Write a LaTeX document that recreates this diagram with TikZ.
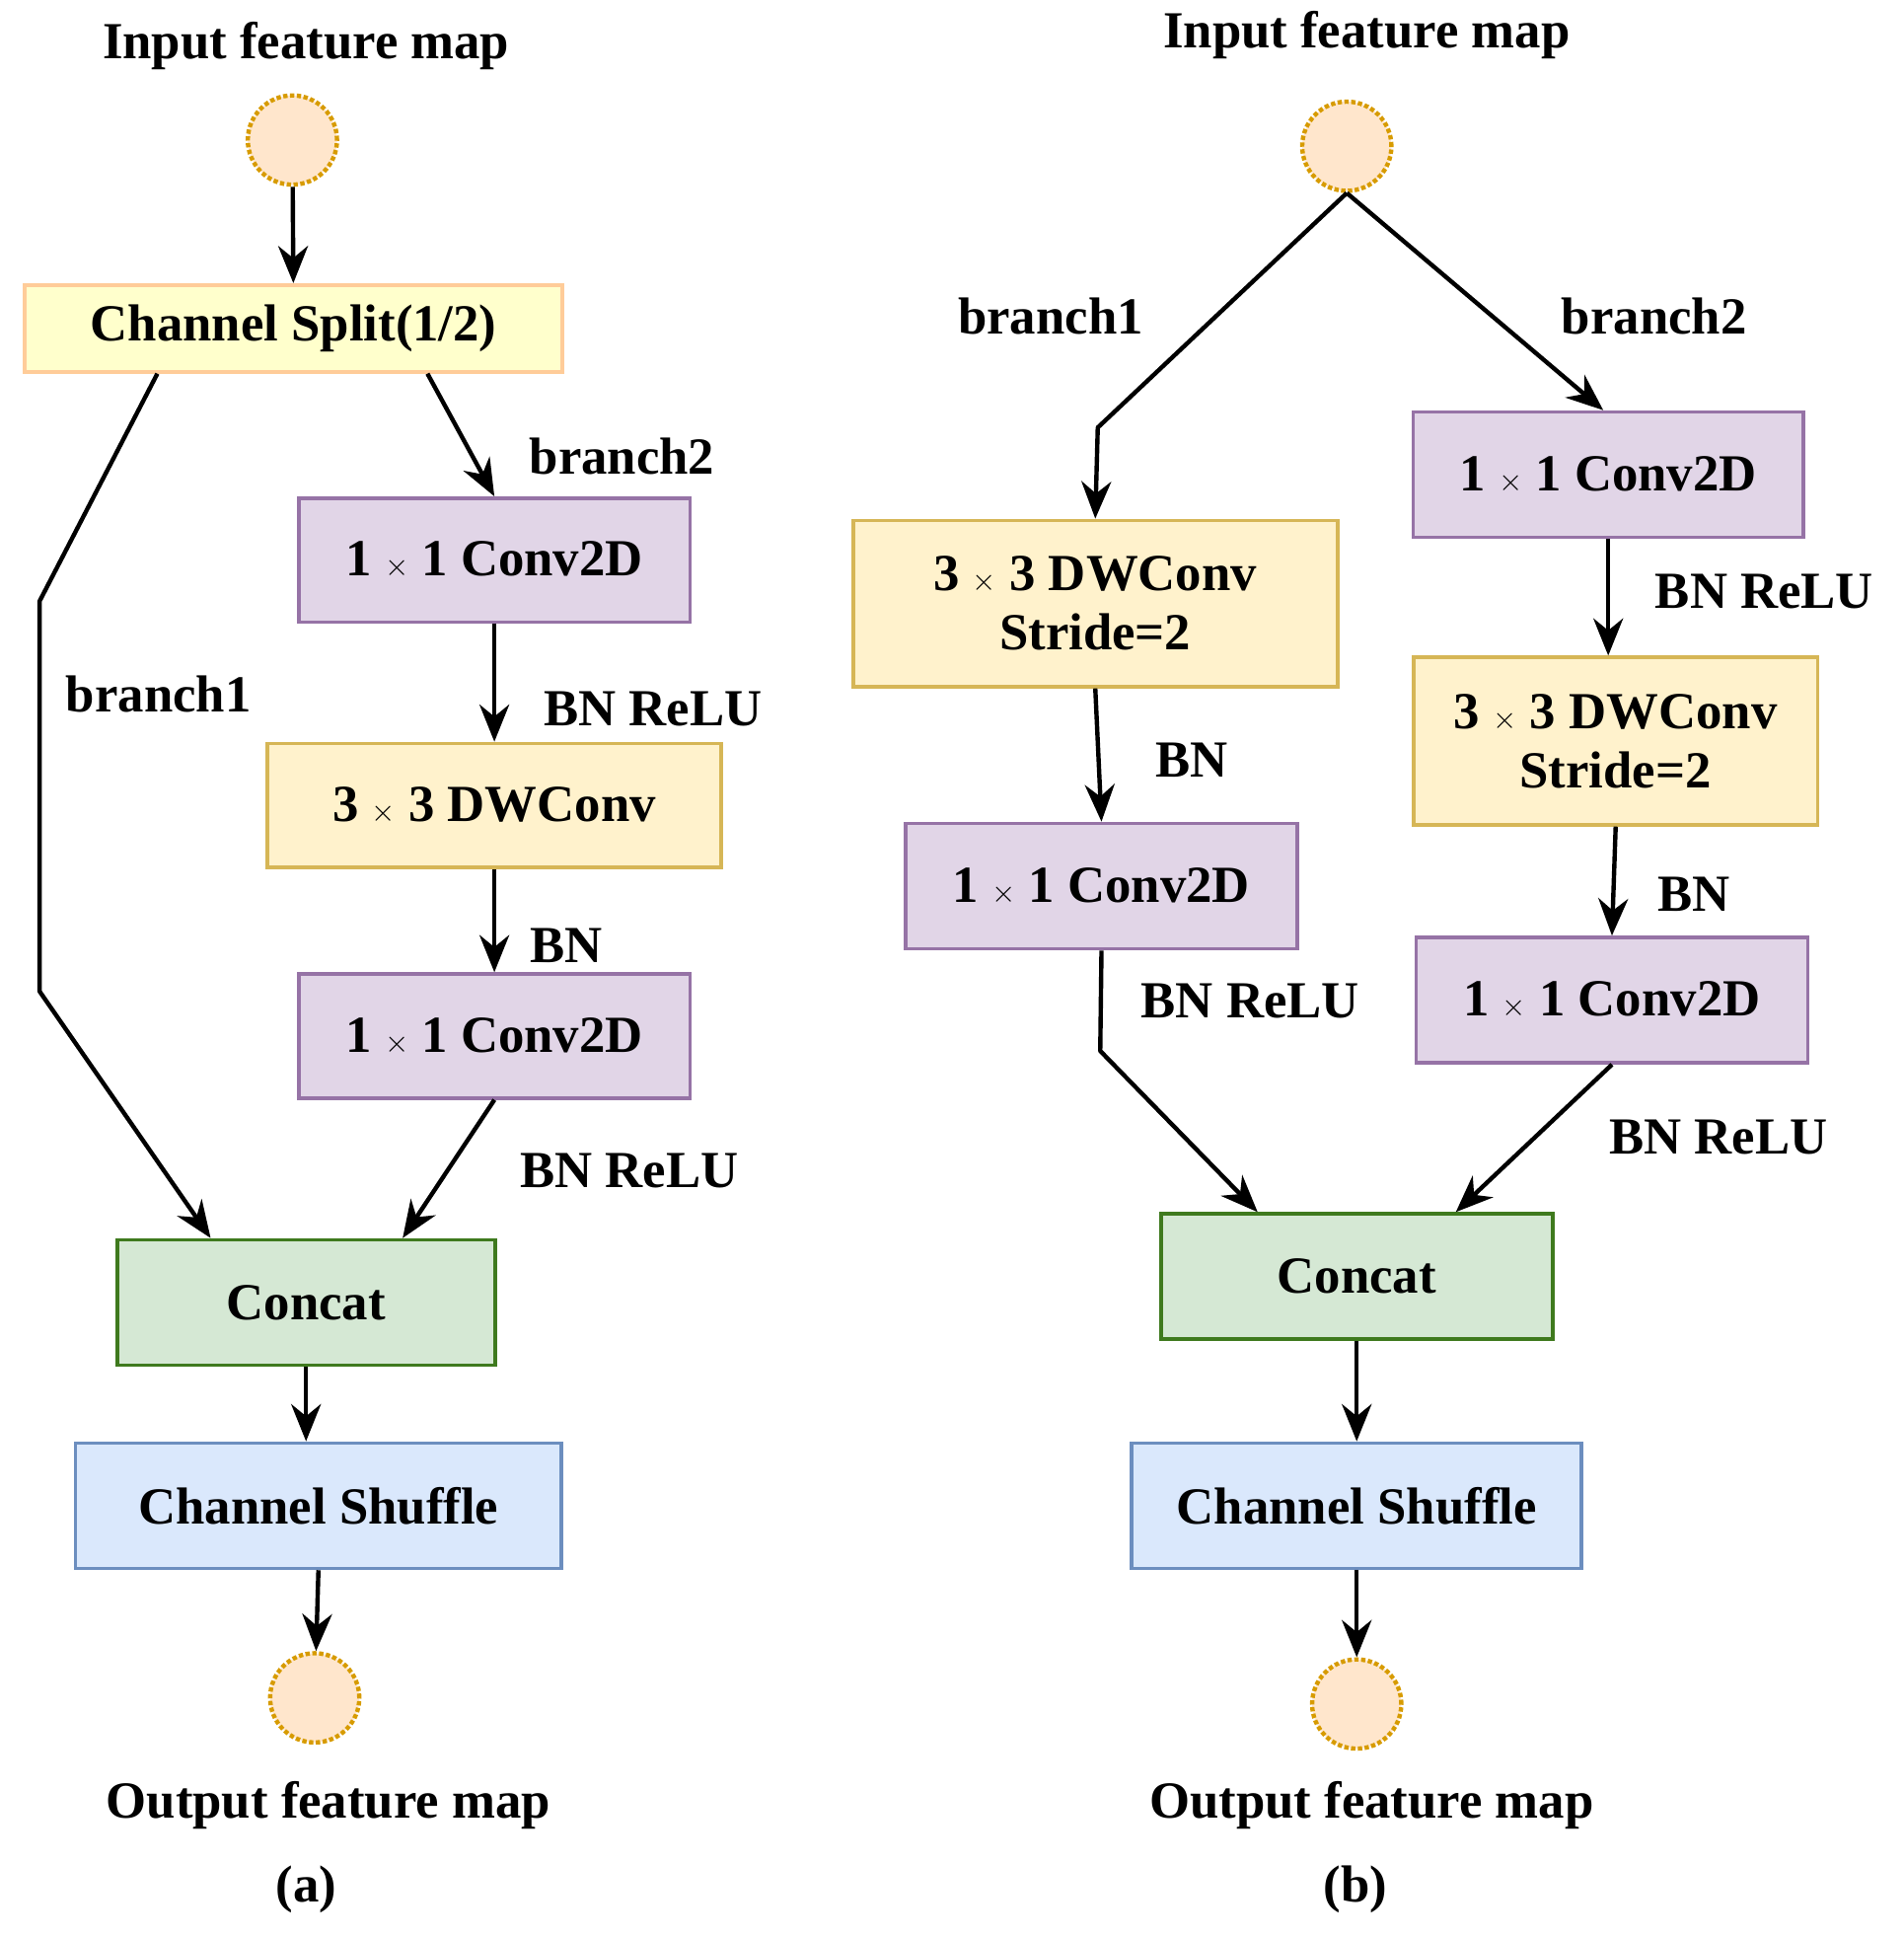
\documentclass[tikz,border=0pt]{standalone}
\usepackage{fontspec}
\setmainfont{Liberation Serif}
\usetikzlibrary{arrows.meta,calc}
\definecolor{pfill}{HTML}{E1D5E7}\definecolor{pdraw}{HTML}{9673A6}
\definecolor{yfill}{HTML}{FFF2CC}\definecolor{ydraw}{HTML}{D6B656}
\definecolor{gfill}{HTML}{D5E8D4}\definecolor{gdraw}{HTML}{3F7A1E}
\definecolor{bfill}{HTML}{DAE8FC}\definecolor{bdraw}{HTML}{6C8EBF}
\definecolor{sfill}{HTML}{FFFFCC}\definecolor{sdraw}{HTML}{FFCC99}
\definecolor{cfill}{HTML}{FFE6CC}\definecolor{cdraw}{HTML}{D79B00}
\begin{document}
\begin{tikzpicture}[x=1pt,y=-1pt,
 every node/.style={font=\fontsize{42}{50}\selectfont\bfseries},
 box/.style={draw,line width=3pt,inner sep=0pt,align=center},
 pu/.style={box,fill=pfill,draw=pdraw},
 ye/.style={box,fill=yfill,draw=ydraw},
 gr/.style={box,fill=gfill,draw=gdraw},
 bl/.style={box,fill=bfill,draw=bdraw},
 circ/.style={circle,fill=cfill,draw=cdraw,dotted,line width=3.5pt,minimum size=72pt,inner sep=0pt},
 arr/.style={-{Stealth[length=30pt,width=24pt]},line width=3.5pt,line join=round},
 lab/.style={inner sep=0pt}]
\useasboundingbox (0,0) rectangle (1536,1563);
% (a)
\node[lab] (tia) at (247,37) {Input feature map};
\node[circ] (ina) at (236,113) {};
\node[box,fill=sfill,draw=sdraw,minimum width=434pt,minimum height=70pt] (split) at (237,265) {Channel Split(1/2)};
\node[pu,minimum width=316pt,minimum height=100pt] (ca1) at (399,452) {1 $\times$ 1 Conv2D};
\node[ye,minimum width=366pt,minimum height=100pt] (dwa) at (399,650) {3 $\times$ 3 DWConv};
\node[pu,minimum width=316pt,minimum height=100pt] (ca2) at (399,836) {1 $\times$ 1 Conv2D};
\node[gr,minimum width=305pt,minimum height=101pt] (cca) at (247,1051) {Concat};
\node[bl,minimum width=392pt,minimum height=101pt] (sha) at (257,1215) {Channel Shuffle};
\node[circ] (outa) at (254,1370) {};
\node[lab] (toa) at (265,1457) {Output feature map};
\node[lab] (capa) at (247,1525) {(a)};
\coordinate (a1) at (32,485); \coordinate (a2) at (32,800);
\draw[arr] (ina) -- (split);
\draw[arr] ([xshift=-110pt]split.south) -- (a1) -- (a2) -- ([xshift=-77pt]cca.north);
\draw[arr] ([xshift=108pt]split.south) -- (ca1.north);
\draw[arr] (ca1) -- (dwa);
\draw[arr] (dwa) -- (ca2);
\draw[arr] (ca2.south) -- ([xshift=78pt]cca.north);
\draw[arr] (cca) -- (cca|-sha.north);
\draw[arr] ([xshift=0pt]sha.south) -- (outa);
\node[lab] (la1) at (128,560) {branch1};
\node[lab] (la2) at (502,368) {branch2};
\node[lab] (la3) at (527,572) {BN ReLU};
\node[lab] (la4) at (457,763) {BN};
\node[lab] (la5) at (508,945) {BN ReLU};
% (b)
\node[lab] (tib) at (1103,28) {Input feature map};
\node[circ] (inb) at (1087,118) {};
\node[ye,minimum width=391pt,minimum height=134pt] (dwb1) at (884,487) {3 $\times$ 3 DWConv\\[-2pt]Stride=2};
\node[pu,minimum width=316pt,minimum height=101pt] (cb1) at (889,715) {1 $\times$ 1 Conv2D};
\node[pu,minimum width=315pt,minimum height=101pt] (cb2) at (1298,383) {1 $\times$ 1 Conv2D};
\node[ye,minimum width=326pt,minimum height=135pt] (dwb2) at (1304,598) {3 $\times$ 3 DWConv\\[-2pt]Stride=2};
\node[pu,minimum width=316pt,minimum height=101pt] (cb3) at (1301,807) {1 $\times$ 1 Conv2D};
\node[gr,minimum width=316pt,minimum height=101pt] (ccb) at (1095,1030) {Concat};
\node[bl,minimum width=363pt,minimum height=101pt] (shb) at (1095,1215) {Channel Shuffle};
\node[circ] (outb) at (1095,1375) {};
\node[lab] (tob) at (1107,1457) {Output feature map};
\node[lab] (capb) at (1094,1525) {(b)};
\coordinate (b1) at (886,345); \coordinate (b2) at (888,848);
\draw[arr] (inb.south) -- (b1) -- (dwb1.north);
\draw[arr] (inb.south) -- ([xshift=-4pt]cb2.north);
\draw[arr] (dwb1.south) -- (cb1.north);
\draw[arr] (cb1.south) -- (b2) -- ([xshift=-80pt]ccb.north);
\draw[arr] (cb2.south) -- (cb2.south|-dwb2.north);
\draw[arr] (dwb2.south) -- (cb3.north);
\draw[arr] (cb3.south) -- ([xshift=80pt]ccb.north);
\draw[arr] (ccb) -- (shb);
\draw[arr] (shb) -- (outb);
\node[lab] (lb1) at (848,255) {branch1};
\node[lab] (lb2) at (1335,255) {branch2};
\node[lab] (lb3) at (962,613) {BN};
\node[lab] (lb4) at (1009,808) {BN ReLU};
\node[lab] (lb5) at (1424,477) {BN ReLU};
\node[lab] (lb6) at (1367,722) {BN};
\node[lab] (lb7) at (1387,918) {BN ReLU};
\end{tikzpicture}
\end{document}
